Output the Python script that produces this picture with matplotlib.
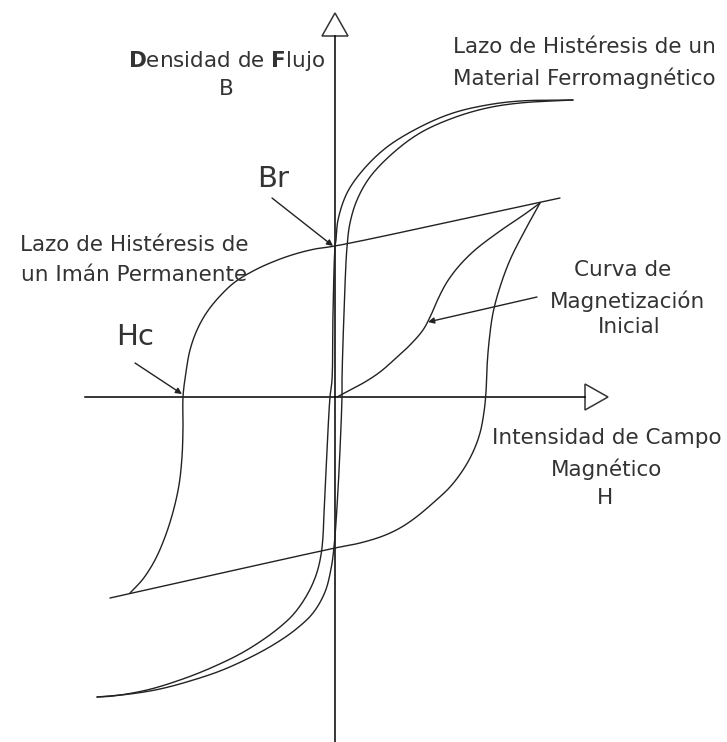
import matplotlib
matplotlib.use('Agg')
import numpy as np
import matplotlib.pyplot as plt
from matplotlib.patches import Polygon

plt.rcParams['font.family'] = ['DejaVu Sans']
plt.rcParams['mathtext.fontset'] = 'dejavusans'

# field H (x) and flux density B (y), origin at the axes crossing
# ferromagnetic material loop: descending and ascending branches
ferro_desc_h = [238, 185, 152, 118, 85, 52, 28, 12, 3, 1, 0, -2, -3, -5, -10, -14, -22, -38, -55, -88, -122, -155, -188, -222, -238]
ferro_desc_b = [297, 296, 292, 284, 270, 250, 227, 204, 177, 157, 150, 84, 17, 0, -93, -158, -186, -213, -230, -253, -270, -283, -293, -299, -300]
ferro_asc_h = [-238, -205, -175, -145, -115, -88, -62, -40, -22, -10, -4, -1, 3, 7, 7, 9, 12, 15, 22, 35, 58, 85, 118, 152, 185, 238]
ferro_asc_b = [-300, -297, -292, -284, -274, -262, -248, -233, -216, -195, -172, -150, -93, 0, 17, 84, 150, 174, 197, 220, 244, 264, 279, 289, 294, 297]

# permanent magnet loop
magnet_desc_h = [225, 0, -20, -40, -60, -80, -100, -115, -128, -138, -145, -149, -152, -152, -153, -156, -162, -170, -180, -192, -205]
magnet_desc_b = [199, 151, 148, 143, 136, 127, 115, 101, 85, 67, 47, 25, 0, -30, -60, -88, -115, -140, -163, -182, -196]
magnet_asc_h = [-225, 0, 25, 48, 65, 80, 98, 115, 128, 138, 145, 149, 151, 152, 154, 158, 165, 175, 188, 205]
magnet_asc_b = [-201, -151, -146, -139, -131, -121, -106, -90, -73, -55, -36, -15, 5, 30, 55, 84, 110, 137, 163, 194]

# initial magnetization curve
init_h = [2, 15, 30, 45, 60, 75, 88, 96, 103, 112, 124, 140, 165, 190, 205]
init_b = [0, 7, 15, 25, 38, 52, 67, 82, 98, 115, 131, 147, 166, 183, 194]

# axis extents
h_axis = (-250, 250)
b_axis = (-345, 361)
head_len = 23
head_half = 13


def smooth(xs, ys, n=16):
    # centripetal catmull-rom through the read points, only for drawing
    p = np.column_stack([xs, ys]).astype(float)
    p = np.vstack([2 * p[0] - p[1], p, 2 * p[-1] - p[-2]])
    out = [p[1]]
    for i in range(1, len(p) - 2):
        p0, p1, p2, p3 = p[i - 1], p[i], p[i + 1], p[i + 2]
        t0 = 0.0
        t1 = t0 + max(np.linalg.norm(p1 - p0), 1e-6) ** 0.5
        t2 = t1 + max(np.linalg.norm(p2 - p1), 1e-6) ** 0.5
        t3 = t2 + max(np.linalg.norm(p3 - p2), 1e-6) ** 0.5
        for t in np.linspace(t1, t2, n)[1:]:
            a1 = (t1 - t) / (t1 - t0) * p0 + (t - t0) / (t1 - t0) * p1
            a2 = (t2 - t) / (t2 - t1) * p1 + (t - t1) / (t2 - t1) * p2
            a3 = (t3 - t) / (t3 - t2) * p2 + (t - t2) / (t3 - t2) * p3
            b1 = (t2 - t) / (t2 - t0) * a1 + (t - t0) / (t2 - t0) * a2
            b2 = (t3 - t) / (t3 - t1) * a2 + (t - t1) / (t3 - t1) * a3
            out.append((t2 - t) / (t2 - t1) * b1 + (t - t1) / (t2 - t1) * b2)
    out = np.array(out)
    return out[:, 0], out[:, 1]


fig = plt.figure(figsize=(7.27, 7.42), dpi=100)
ax = fig.add_axes([0, 0, 1, 1])
ax.set_xlim(-335, 392)
ax.set_ylim(-345, 397)
ax.axis('off')

line_col = '#222222'
text_col = '#333333'

# axes with open triangular heads
ax.plot([h_axis[0], h_axis[1]], [0, 0], color='black', lw=1.1)
ax.plot([0, 0], [b_axis[0], b_axis[1]], color='black', lw=1.1)
ax.add_patch(Polygon([[h_axis[1], -head_half], [h_axis[1] + head_len, 0], [h_axis[1], head_half]],
                     closed=True, fill=False, ec='#333333', lw=1.1))
ax.add_patch(Polygon([[-head_half, b_axis[1]], [0, b_axis[1] + head_len], [head_half, b_axis[1]]],
                     closed=True, fill=False, ec='#333333', lw=1.1))

for h, b in [(ferro_desc_h, ferro_desc_b), (ferro_asc_h, ferro_asc_b),
             (magnet_desc_h, magnet_desc_b), (magnet_asc_h, magnet_asc_b),
             (init_h, init_b)]:
    sx, sy = smooth(h, b)
    ax.plot(sx, sy, color=line_col, lw=1.0, solid_capstyle='round')

arrow = dict(arrowstyle='-|>', color=line_col, lw=1.0, mutation_scale=9, shrinkA=0, shrinkB=0)
ax.annotate('', xy=(-2, 151), xytext=(-63, 199), arrowprops=arrow)
ax.annotate('', xy=(-153, 3), xytext=(-200, 34), arrowprops=arrow)
ax.annotate('', xy=(93, 75), xytext=(202, 100), arrowprops=arrow)

fs = 15.5
ax.text(-108, 336, r'$\mathbf{D}$ensidad de $\mathbf{F}$lujo', fontsize=fs, color=text_col, ha='center', va='center')
ax.text(-109, 308, 'B', fontsize=fs, color=text_col, ha='center', va='center')
ax.text(249, 350, 'Lazo de Histéresis de un', fontsize=fs, color=text_col, ha='center', va='center')
ax.text(249, 319, 'Material Ferromagnético', fontsize=fs, color=text_col, ha='center', va='center')
ax.text(-62, 218, 'Br', fontsize=21, color=text_col, ha='center', va='center')
ax.text(-201, 152, 'Lazo de Histéresis de', fontsize=fs, color=text_col, ha='center', va='center')
ax.text(-201, 122, 'un Imán Permanente', fontsize=fs, color=text_col, ha='center', va='center')
ax.text(-200, 60, 'Hc', fontsize=21, color=text_col, ha='center', va='center')
ax.text(288, 127, 'Curva de', fontsize=fs, color=text_col, ha='center', va='center')
ax.text(293, 96, 'Magnetización', fontsize=fs, color=text_col, ha='center', va='center')
ax.text(294, 70, 'Inicial', fontsize=fs, color=text_col, ha='center', va='center')
ax.text(272, -41, 'Intensidad de Campo', fontsize=fs, color=text_col, ha='center', va='center')
ax.text(272, -72, 'Magnético', fontsize=fs, color=text_col, ha='center', va='center')
ax.text(270, -101, 'H', fontsize=fs, color=text_col, ha='center', va='center')

fig.savefig('out.png', dpi=100, facecolor='white')
